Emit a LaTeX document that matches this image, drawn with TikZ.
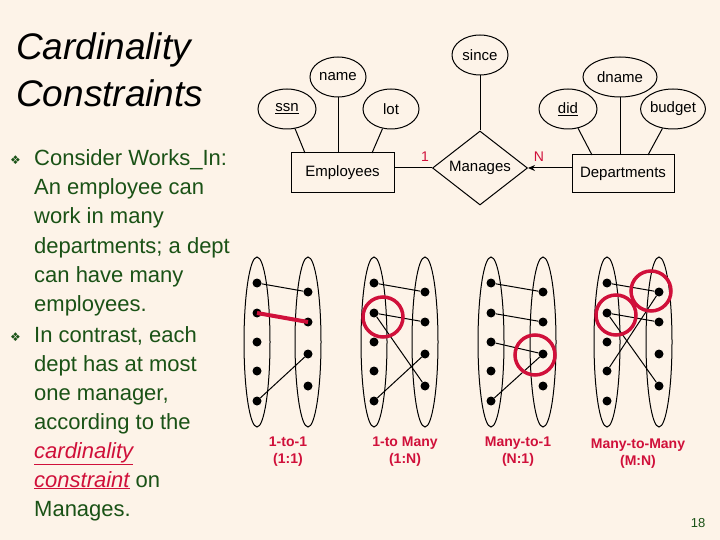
\documentclass[tikz,border=0pt]{standalone}
\usepackage{fontspec}
\setmainfont{Liberation Sans}
\newfontfamily\dejavu{DejaVu Sans}
\usetikzlibrary{shapes.geometric,arrows.meta}
\definecolor{bg}{HTML}{FDF3E8}
\definecolor{grn}{HTML}{1A5216}
\definecolor{rd}{HTML}{D0103A}
\tikzset{
 attr/.style={draw,ellipse,line width=1pt,inner sep=0pt,font=\fontsize{15}{15}\selectfont},
 ent/.style={draw,rectangle,line width=1pt,inner sep=0pt,font=\fontsize{15}{15}\selectfont},
 ln/.style={line width=1pt},
 set/.style={draw,ellipse,line width=1pt,minimum width=26pt,minimum height=170pt,inner sep=0pt},
 dot/.style={circle,fill=black,inner sep=0pt,minimum size=9pt},
 edge/.style={line width=1pt},
 hl/.style={draw=rd,line width=3.5pt,circle,minimum size=40pt,inner sep=0pt},
 body/.style={anchor=base west,text=grn,font=\fontsize{22}{22}\selectfont,inner sep=0pt},
 lab/.style={text=rd,font=\bfseries\fontsize{14}{17}\selectfont,align=center},
 bul/.style={anchor=base west,text=grn,font=\dejavu\fontsize{12}{12}\selectfont,inner sep=0pt}
}
\begin{document}
\begin{tikzpicture}[x=1pt,y=-1pt]
\fill[bg] (0,0) rectangle (720,540);
\useasboundingbox (0,0) rectangle (720,540);
% title
\node[anchor=base west,inner sep=0pt,font=\itshape\fontsize{37}{37}\selectfont] (t1) at (16,60) {Cardinality};
\node[anchor=base west,inner sep=0pt,font=\itshape\fontsize{37}{37}\selectfont] (t2) at (16,107) {Constraints};
% bullets
\node[bul] (b1) at (10,165) {❖};
\node[bul] (b2) at (10,341) {❖};
\node[body] (l1) at (34,166) {Consider Works\_In:};
\node[body] (l2) at (34,195) {An employee can};
\node[body] (l3) at (34,224) {work in many};
\node[body] (l4) at (34,253) {departments; a dept};
\node[body] (l5) at (34,282) {can have many};
\node[body] (l6) at (34,311) {employees.};
\node[body] (l7) at (34,342) {In contrast, each};
\node[body] (l8) at (34,371) {dept has at most};
\node[body] (l9) at (34,400) {one manager,};
\node[body] (l10) at (34,429) {according to the};
\node[body] (l11) at (34,458) {\textcolor{rd}{\itshape\underline{cardinality}}};
\node[body] (l12) at (34,487) {\textcolor{rd}{\itshape\underline{constraint}} on};
\node[body] (l13) at (34,516) {Manages.};
% ER diagram
\node[attr,minimum width=56pt,minimum height=40pt] (since) at (480,55) {since};
\node[attr,minimum width=56pt,minimum height=40pt] (name) at (338,77) {name};
\node[attr,minimum width=58pt,minimum height=40pt] (ssn) at (287,109) {\underline{ssn}};
\node[attr,minimum width=56pt,minimum height=40pt] (lot) at (391,109) {lot};
\node[attr,minimum width=74pt,minimum height=40pt] (dname) at (620,77) {dname};
\node[attr,minimum width=58pt,minimum height=40pt] (did) at (568,109) {\underline{did}};
\node[attr,minimum width=64pt,minimum height=40pt] (budget) at (673,109) {budget};
\node[ent,minimum width=103pt,minimum height=40pt] (emp) at (342.5,173) {Employees};
\node[ent,minimum width=102pt,minimum height=38pt] (dep) at (623,174) {Departments};
\node[draw,diamond,line width=1pt,aspect=1.3,minimum width=95pt,minimum height=74pt,inner sep=0pt,font=\fontsize{15}{15}\selectfont] (man) at (480,168) {Manages};
\coordinate (ea) at (305,153);
\coordinate (eb) at (372,153);
\coordinate (da) at (592,155);
\coordinate (db) at (648,155);
\draw[ln] (since) -- (man.north);
\draw[ln] (ssn) -- (ea);
\draw[ln] (name) -- (name|-emp.north);
\draw[ln] (lot) -- (eb);
\draw[ln] (did) -- (da);
\draw[ln] (dname) -- (dname|-dep.north);
\draw[ln] (budget) -- (db);
\draw[ln] (emp.east|-man) -- (man.west);
\draw[ln,-{Stealth[length=7pt,width=6pt]}] (dep.west|-man) -- (man.east);
\node[text=rd,font=\fontsize{14}{14}\selectfont] (one) at (425,157) {1};
\node[text=rd,font=\fontsize{14}{14}\selectfont] (nn) at (539,157) {N};
% bipartite graphs
\foreach \g/\lx/\rx in {a/257/308, b/374/425, c/491/543, d/607/659}{
  \node[set] (\g L) at (\lx,342) {};
  \node[set] (\g R) at (\rx,342) {};
  \foreach \i/\y in {1/283,2/313,3/342,4/371,5/401}{\node[dot] (\g l\i) at (\lx,\y) {};}
  \foreach \i/\y in {1/292,2/322,3/354,4/386}{\node[dot] (\g r\i) at (\rx,\y) {};}
}
\draw[edge] (al1) -- (ar1);
\draw[rd,line width=4pt] (al2.center) -- (ar2.center);
\draw[edge] (al5) -- (ar3);
\draw[edge] (bl1) -- (br1); \draw[edge] (bl2) -- (br2); \draw[edge] (bl2) -- (br4); \draw[edge] (bl5) -- (br3);
\draw[edge] (cl1) -- (cr1); \draw[edge] (cl2) -- (cr2); \draw[edge] (cl3) -- (cr3); \draw[edge] (cl5) -- (cr3);
\draw[edge] (dl1) -- (dr1); \draw[edge] (dl2) -- (dr2); \draw[edge] (dl2) -- (dr4); \draw[edge] (dl4) -- (dr1);
\node[hl] (h1) at (383,317) {};
\node[hl] (h2) at (535,355) {};
\node[hl] (h3) at (616,315) {};
\node[hl] (h4) at (651,291) {};
% labels
\node[lab] (c1) at (288,452) {1-to-1\\(1:1)};
\node[lab] (c2) at (405,452) {1-to Many\\(1:N)};
\node[lab] (c3) at (518,452) {Many-to-1\\(N:1)};
\node[lab] (c4) at (638,454) {Many-to-Many\\(M:N)};
\node[text=grn,font=\fontsize{13}{13}\selectfont] (pg) at (698,523) {18};
\end{tikzpicture}
\end{document}
